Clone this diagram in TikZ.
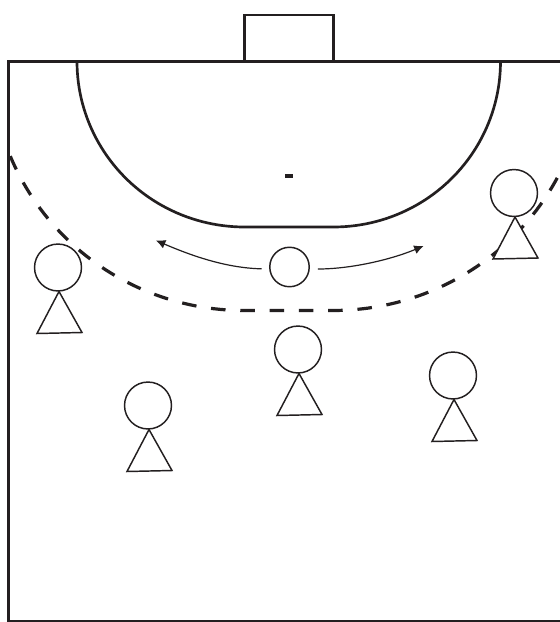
\documentclass[tikz,border=0pt]{standalone}
\usetikzlibrary{arrows.meta}
\definecolor{ink}{HTML}{231F20}
\tikzset{
  court/.style={draw=ink,line width=2pt},
  fline/.style={draw=ink,line width=2pt,line join=miter},
  zone/.style={draw=ink,line width=2.4pt,dash pattern=on 10.9pt off 11.08pt},
  head/.style={circle,draw=ink,fill=white,line width=1.1pt,minimum size=35.2pt,inner sep=0pt},
  ballnode/.style={circle,draw=ink,fill=white,line width=1.1pt,minimum size=29.6pt,inner sep=0pt},
  torso/.style={draw=ink,fill=white,line width=1.1pt,line join=miter},
  move/.style={draw=ink,line width=0.9pt,-{Latex[length=7pt,width=6.8pt]}}
}
\newcommand{\player}[3]{%
  \draw[torso] (#2+1,#3+24) -- (#2-21,#3+66) -- (#2+24,#3+65) -- cycle;
  \node[head] (#1) at (#2,#3) {};
}
\begin{document}
\begin{tikzpicture}[x=0.75pt,y=-0.75pt]
\useasboundingbox (0,0) rectangle (560,622);
\fill[white] (0,0) rectangle (560,622);
% zone line
\draw[zone] plot[domain=157.5:90,samples=50] ({244+253*cos(\x)},{60.5+250*sin(\x)})
  -- plot[domain=90:25,samples=50] ({333+254*cos(\x)},{60.5+250*sin(\x)});
% court
\draw[fline] (560,61.5) -- (8.5,61.5) -- (8.5,621) -- (560,621);
\draw[court] (244.5,61.5) -- (244.5,15) -- (333.5,15) -- (333.5,61.5);
\draw[court] plot[domain=180:90,samples=50] ({244.5+167.5*cos(\x)},{61.5+165.5*sin(\x)})
  -- plot[domain=90:0,samples=50] ({333.5+167*cos(\x)},{61.5+165.5*sin(\x)});
\fill[ink] (285,174) rectangle (293,178);
% players
\player{pa}{58}{267.5}
\player{pb}{148}{405.5}
\player{pc}{298}{349.5}
\player{pd}{453}{375.5}
\player{pe}{514}{193}
% ball and arrows
\node[ballnode] (ball) at (289.5,267) {};
\coordinate (la) at (156,240.5);
\coordinate (ra) at (423.5,246);
\draw[move,shorten <=5.5pt] (ball.west) ++(0,2) .. controls (225,268) and (190,255) .. (la);
\draw[move,shorten <=6pt] (ball.east) ++(0,2) .. controls (350,269) and (390,260) .. (ra);
\end{tikzpicture}
\end{document}
